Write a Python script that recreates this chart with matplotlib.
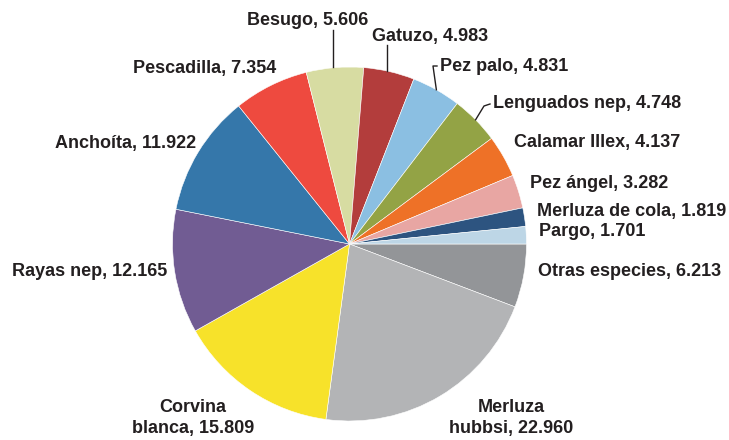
import numpy as np
import matplotlib
matplotlib.use("Agg")
import matplotlib.pyplot as plt

species = ["Otras especies", "Merluza\nhubbsi", "Corvina\nblanca", "Rayas nep", "Anchoíta",
           "Pescadilla", "Besugo", "Gatuzo", "Pez palo", "Lenguados nep", "Calamar Illex",
           "Pez ángel", "Merluza de cola", "Pargo"]
values = [6.213, 22.960, 15.809, 12.165, 11.922, 7.354, 5.606, 4.983, 4.831, 4.748, 4.137,
          3.282, 1.819, 1.701]
value_labels = ["6.213", "22.960", "15.809", "12.165", "11.922", "7.354", "5.606", "4.983",
                "4.831", "4.748", "4.137", "3.282", "1.819", "1.701"]
colors = ["#939598", "#b3b4b6", "#f7e22a", "#715c93", "#3577aa", "#ee4a3f", "#d7dca2",
          "#b33d3c", "#8bbfe2", "#93a345", "#ee7127", "#e8a6a3", "#2d5480", "#bdd6e6"]

W, H = 729, 440
fig = plt.figure(figsize=(W / 100, H / 100), dpi=100)
ax = fig.add_axes([0, 0, 1, 1])
cx, cy, r = 349.5, H - 244, 177
wedges, _ = ax.pie(values, colors=colors, startangle=0, counterclock=False,
                   center=(cx, cy), radius=r, frame=True,
                   wedgeprops=dict(linewidth=0.4, edgecolor="white"))
ax.set_xlim(0, W)
ax.set_ylim(0, H)
ax.set_aspect("equal")
ax.axis("off")

fam = ["Liberation Sans Narrow", "Liberation Sans", "DejaVu Sans"]
fs = 13

# label pixel positions (x, y, ha) in image coords (y from top)
pos = {
    0: (538, 271, "left"),
    1: (511, 418, "center"),
    2: (193, 418, "center"),
    3: (12, 271, "left"),
    4: (55, 143, "left"),
    5: (133, 68, "left"),
    6: (308, 20, "center"),
    7: (372, 36, "left"),
    8: (440, 66, "left"),
    9: (493, 103, "left"),
    10: (514, 142, "left"),
    11: (530, 183, "left"),
    12: (537, 211, "left"),
    13: (539, 231, "left"),
}
for i, (name, val) in enumerate(zip(species, value_labels)):
    x, y, ha = pos[i]
    if "\n" in name:
        a, b = name.split("\n")
        txt = f"{a}\n{b}, {val}"
    else:
        txt = f"{name}, {val}"
    ax.text(x, H - y, txt, ha=ha, va="center", fontsize=fs, fontweight="bold",
            family=fam, color="#231f20", linespacing=1.35)

# leader lines
def edge_point(i):
    w = wedges[i]
    ang = np.deg2rad((w.theta1 + w.theta2) / 2)
    return cx + r * np.cos(ang), cy + r * np.sin(ang)

leaders = {
    6: [(333, 30)],
    7: [(387, 45)],
    8: [(437, 66), (433, 66)],
    9: [(490, 104), (484, 106)],
}
for i, pts in leaders.items():
    ex, ey = edge_point(i)
    xs = [p[0] for p in pts]
    ys = [H - p[1] for p in pts]
    if i in (6, 7):
        ax.plot([xs[0], xs[0]], [ys[0], ey + 1], color="#231f20", lw=1)
    else:
        ax.plot(xs + [ex], ys + [ey], color="#231f20", lw=1)

fig.savefig("out.png", dpi=100)
